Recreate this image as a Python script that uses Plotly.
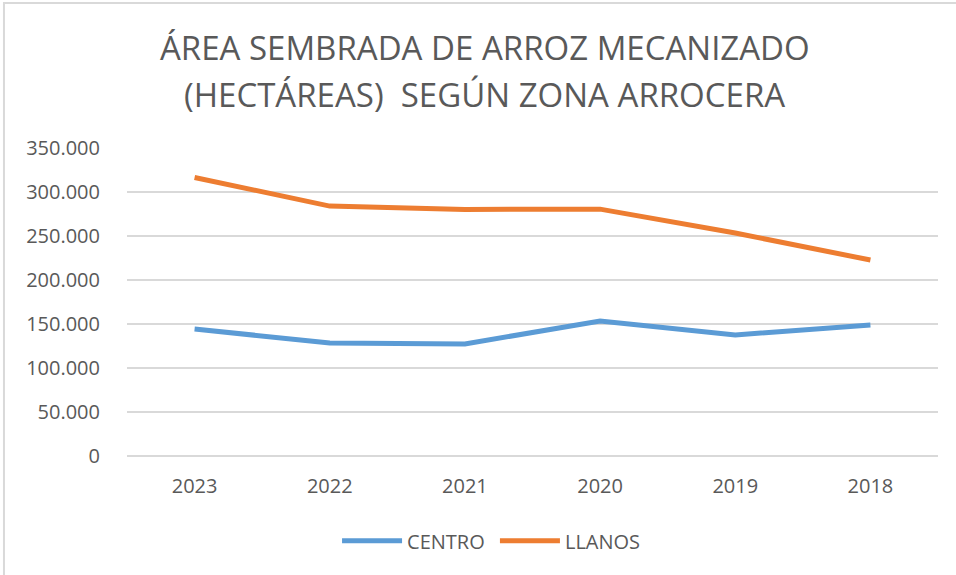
import plotly.graph_objects as go

# Datos
years = ["2023", "2022", "2021", "2020", "2019", "2018"]
centro = [144300, 128400, 127300, 153400, 137500, 148900]
llanos = [316500, 284000, 280200, 280500, 253400, 222700]

title_lines = ["ÁREA SEMBRADA DE ARROZ MECANIZADO",
               "(HECTÁREAS)\u00a0\u00a0SEGÚN ZONA ARROCERA"]

fig = go.Figure()
fig.add_trace(go.Scatter(x=years, y=centro, mode="lines", name="CENTRO\u00a0",
                         line=dict(color="#5b9bd5", width=5)))
fig.add_trace(go.Scatter(x=years, y=llanos, mode="lines", name="LLANOS",
                         line=dict(color="#ed7d31", width=5)))

font = "Open Sans, Liberation Sans, sans-serif"
fig.update_layout(
    width=956, height=575,
    margin=dict(l=127, r=18, t=148, b=119),
    paper_bgcolor="white", plot_bgcolor="white",
    separators=",.",
    font=dict(family=font, color="#595959", size=20),
    showlegend=True,
    legend=dict(orientation="h", x=0.259, xanchor="left", y=-0.275, yanchor="middle",
                font=dict(size=20, color="#595959"), itemwidth=60),
)
# título en dos líneas
for txt, yy in zip(title_lines, [1.3247, 1.1721]):
    fig.add_annotation(text=txt, xref="paper", yref="paper", x=0.441, y=yy,
                       xanchor="center", yanchor="middle", showarrow=False,
                       font=dict(size=33, color="#595959", family=font))

fig.update_xaxes(showgrid=False, showline=False, ticks="", tickfont=dict(size=20),
                 range=[-0.5, 5.5], ticklabelstandoff=16)
fig.update_yaxes(range=[0, 350000], dtick=50000, tickformat=",d", showgrid=True,
                 gridcolor="#d9d9d9", gridwidth=2, zeroline=True, zerolinecolor="#d9d9d9",
                 zerolinewidth=2, ticks="outside", ticklen=22, tickcolor="white",
                 tickfont=dict(size=20))

# marco del gráfico
fig.add_shape(type="rect", xref="paper", yref="paper",
              x0=-0.1517, x1=1.1, y0=-0.5, y1=1.4708,
              line=dict(color="#d9d9d9", width=2), fillcolor="rgba(0,0,0,0)", layer="below")

fig.write_html("out.html", config={"displayModeBar": False},
               post_script="document.body.style.margin='0';")
